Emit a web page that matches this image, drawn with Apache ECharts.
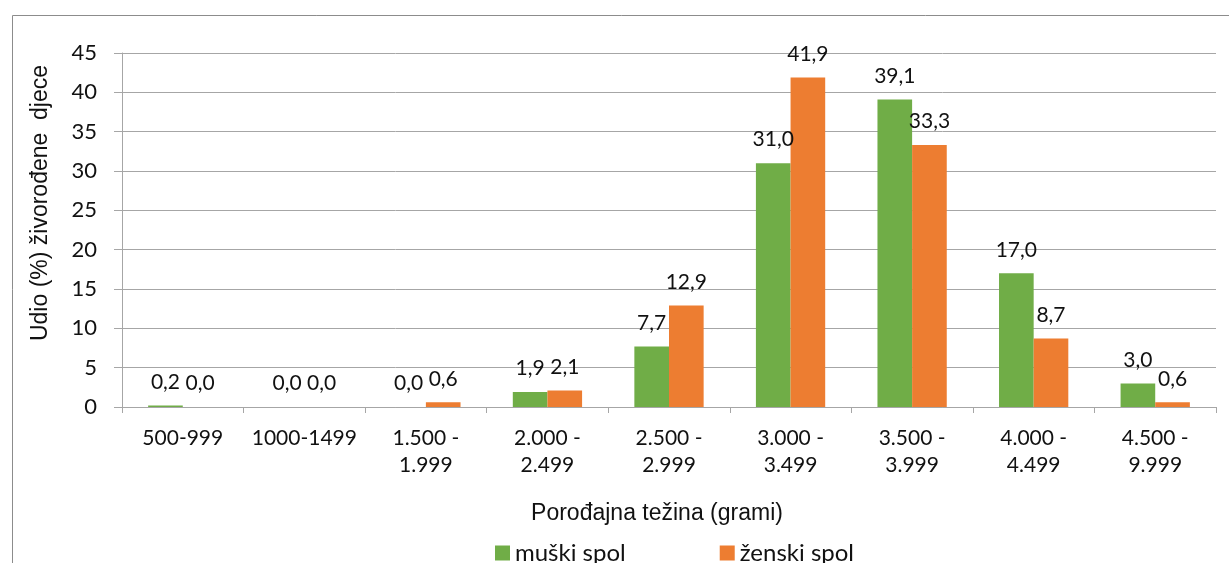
<!DOCTYPE html>
<html>
<head>
<meta charset="utf-8">
<script src="https://cdn.jsdelivr.net/npm/echarts@6/dist/echarts.min.js"></script>
<style>html,body{margin:0;padding:0;background:#fff}#c{width:1229px;height:563px}</style>
</head>
<body>
<div id="c"></div>
<script>
const categories = ['500-999', '1000-1499', '1.500 -\n1.999', '2.000 -\n2.499', '2.500 -\n2.999', '3.000 -\n3.499', '3.500 -\n3.999', '4.000 -\n4.499', '4.500 -\n9.999'];
const maleValues = [0.2, 0.0, 0.0, 1.9, 7.7, 31.0, 39.1, 17.0, 3.0];
const femaleValues = [0.0, 0.0, 0.6, 2.1, 12.9, 41.9, 33.3, 8.7, 0.6];
const seriesNames = ['muški spol', 'ženski spol'];
const yAxisName = 'Udio (%) živorođene  djece';
const xAxisName = 'Porođajna težina (grami)';

const chart = echarts.init(document.getElementById('c'), null, {renderer: 'canvas'});
const fmt = p => p.value.toFixed(1).replace('.', ',');
const labelCfg = {show: true, position: 'top', distance: 13, formatter: fmt, fontFamily: 'Lato', fontSize: 21, color: '#111'};
chart.setOption({
  animation: false,
  graphic: [{type: 'rect', left: 10, top: 13, shape: {width: 1240, height: 600}, style: {fill: 'none', stroke: '#8c8c8c', lineWidth: 1}}],
  grid: {left: 122, right: 13, top: 53, bottom: 156},
  legend: {
    top: 536, left: 490, itemWidth: 15, itemHeight: 15, itemGap: 94, icon: 'rect',
    textStyle: {fontFamily: 'Lato', fontSize: 24, color: '#111'},
    data: seriesNames
  },
  xAxis: {
    type: 'category', data: categories,
    name: xAxisName, nameLocation: 'middle', nameGap: 95,
    nameTextStyle: {fontFamily: 'Liberation Sans', fontSize: 23, color: '#111', padding: [0, 24, 0, 0]},
    axisLine: {lineStyle: {color: '#a6a6a6'}},
    axisTick: {show: true, length: 6, lineStyle: {color: '#a6a6a6'}},
    axisLabel: {fontFamily: 'Lato', fontSize: 21, color: '#111', margin: 18, lineHeight: 27, interval: 0}
  },
  yAxis: {
    type: 'value', min: 0, max: 45, interval: 5,
    name: yAxisName, nameLocation: 'middle', nameGap: 70,
    nameTextStyle: {fontFamily: 'Liberation Sans', fontSize: 23, color: '#111', padding: [0, 0, 0, 54]},
    axisLine: {show: true, lineStyle: {color: '#a6a6a6'}},
    axisTick: {show: true, length: 8, lineStyle: {color: '#a6a6a6'}},
    splitLine: {lineStyle: {color: '#a6a6a6'}},
    axisLabel: {fontFamily: 'Lato', fontSize: 22, color: '#111', margin: 25}
  },
  series: [
    {name: seriesNames[0], type: 'bar', data: maleValues, barGap: '0%', barCategoryGap: '43%', itemStyle: {color: '#70ad47'}, label: labelCfg},
    {name: seriesNames[1], type: 'bar', data: femaleValues, itemStyle: {color: '#ed7d31'}, label: labelCfg}
  ]
});
</script>
</body>
</html>
